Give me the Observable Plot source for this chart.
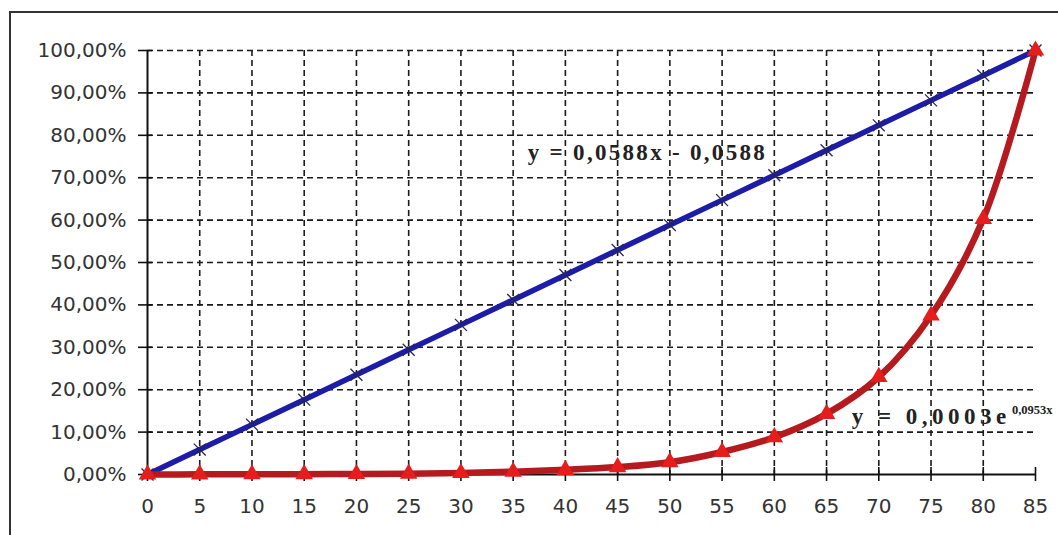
<!DOCTYPE html>
<html><head><meta charset="utf-8">
<script src="https://cdn.jsdelivr.net/npm/d3@7"></script>
<script src="https://cdn.jsdelivr.net/npm/@observablehq/plot@0.6"></script>
<style>
html,body{margin:0;padding:0;background:#fff;overflow:hidden;}
#chart{position:absolute;left:0;top:0;width:1058px;height:535px;}
</style></head><body>
<div id="chart"></div>
<script>
// categories (x axis)
const xValues = [0,5,10,15,20,25,30,35,40,45,50,55,60,65,70,75,80,85];
// blue series: uniform (linear) cumulative share
const blueShare = [0,0.0588,0.1176,0.1765,0.2353,0.2941,0.3529,0.4118,0.4706,0.5294,0.5882,0.6471,0.7059,0.7647,0.8235,0.8824,0.9412,1.0];
const redShare = [0,0.0003,0.0005,0.0008,0.0012,0.002,0.0035,0.0065,0.011,0.0175,0.029,0.053,0.088,0.143,0.23,0.375,0.603,1.0];
// tick labels
const xTicks = [0,5,10,15,20,25,30,35,40,45,50,55,60,65,70,75,80,85];
const yTicks = [0,0.1,0.2,0.3,0.4,0.5,0.6,0.7,0.8,0.9,1.0];
// trendline equation annotations
const eqMain = [
  {x: 36.4, y: 0.758, label: "y = 0,0588x - 0,0588", spacing: 2.3},
  {x: 67.4, y: 0.137, label: "y = 0,0003e", spacing: 4.5}
];
const eqSup = [{x: 82.75, y: 0.153, label: "0,0953x"}];

const blue = xValues.map((x,i)=>({x, y: blueShare[i]}));
const red = xValues.map((x,i)=>({x, y: redShare[i]}));
const pct = d => (d*100).toFixed(2).replace(".", ",") + "%";
const grid = {stroke:"#1a1a1a", strokeWidth:1.6, strokeDasharray:"6,4"};
const tickFont = {fontSize: 20, fontFamily: "DejaVu Sans"};

const chart = Plot.plot({
  width: 1058, height: 535,
  marginLeft: 147, marginRight: 23, marginTop: 50, marginBottom: 61,
  style: {fontFamily: "DejaVu Sans", fontSize: "20px", color: "#222", background: "white"},
  x: {domain: [0,85], label: null},
  y: {domain: [0,1], label: null},
  marks: [
    Plot.ruleX(xTicks.filter(d => d > 0 && d < 85), grid),
    Plot.ruleY(yTicks.filter(d => d > 0), grid),
    Plot.ruleX([0], {stroke:"#111", strokeWidth:2}),
    Plot.ruleY([0], {stroke:"#111", strokeWidth:2}),
    Plot.axisX({ticks: xTicks, tickSize: 14, dy: -7, tickFormat: () => "", stroke:"#111", strokeWidth:1.6}),
    Plot.axisX({ticks: xTicks, tickSize: 0, tickPadding: 24, tickFormat: d => String(d), ...tickFont, fill:"#333"}),
    Plot.axisY({ticks: yTicks, tickSize: 14, dx: 5, tickFormat: () => "", stroke:"#111", strokeWidth:1.6}),
    Plot.axisY({ticks: yTicks, tickSize: 0, tickPadding: 21, tickFormat: pct, ...tickFont, fill:"#333"}),
    Plot.line(blue, {x:"x", y:"y", stroke:"#1c1ca6", strokeWidth:5.5}),
    Plot.dot(blue, {x:"x", y:"y", symbol:"times", r:5.5, stroke:"#26265a", strokeWidth:1.3}),
    Plot.line(red, {x:"x", y:"y", stroke:"#b41a1e", strokeWidth:6.5, curve:"catmull-rom"}),
    Plot.dot(red, {x:"x", y:"y", symbol:"triangle", r:6.5, fill:"#e51d1d", stroke:"none"}),
    Plot.text(eqMain, {x:"x", y:"y", text:"label", textAnchor:"start", fontSize:23, fontWeight:"bold", fontFamily:"Liberation Serif", fill:"#222"}),
    Plot.text(eqSup, {x:"x", y:"y", text:"label", textAnchor:"start", fontSize:12.5, fontWeight:"bold", fontFamily:"Liberation Serif", fill:"#222"})
  ]
});
// widen equation lettering like the original
d3.select(chart).selectAll("text").each(function(){
  const t = this.textContent;
  const e = eqMain.find(d => d.label === t);
  if (e) this.style.letterSpacing = e.spacing + "px";
});
// outer chart-area border (top and left edges visible in the original)
d3.select(chart).append("path")
  .attr("d", "M10,600V12H1100")
  .attr("fill", "none").attr("stroke", "#333").attr("stroke-width", 2);
document.getElementById("chart").appendChild(chart);
</script>
</body></html>
